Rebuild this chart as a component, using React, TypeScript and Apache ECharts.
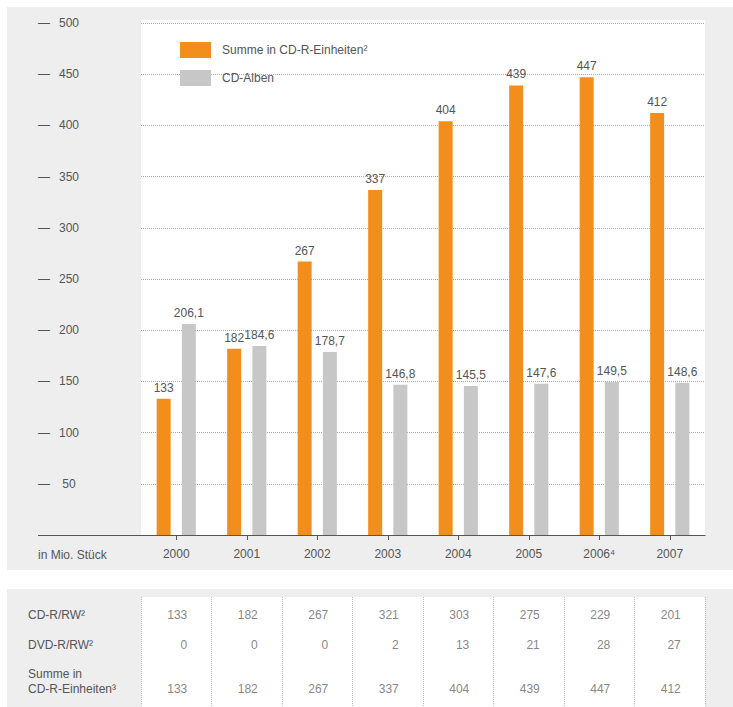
import React, { useEffect, useRef } from "react";
import * as echarts from "echarts";

const years = ["2000", "2001", "2002", "2003", "2004", "2005", "2006⁴", "2007"];
const summeCDR = [133, 182, 267, 337, 404, 439, 447, 412];
const cdAlben = [206.1, 184.6, 178.7, 146.8, 145.5, 147.6, 149.5, 148.6];
const tableCDRRW = [133, 182, 267, 321, 303, 275, 229, 201];
const tableDVDRRW = [0, 0, 0, 2, 13, 21, 28, 27];
const tableSumme = [133, 182, 267, 337, 404, 439, 447, 412];
const rowLabels = ["CD-R/RW²", "DVD-R/RW²", "Summe in\nCD-R-Einheiten³"];
const yTicks = [0, 50, 100, 150, 200, 250, 300, 350, 400, 450, 500];

const ORANGE = "#F28E1C";
const GREY = "#C7C7C7";
const PANEL = "#EEEEEF";
const TXT = "#555";
const FONT = "Liberation Sans";

const fmt = (v: number) => String(v).replace(".", ",");

export default function App() {
  const ref = useRef<HTMLDivElement>(null);
  useEffect(() => {
    if (!ref.current) return;
    const chart = echarts.init(ref.current, undefined, { renderer: "svg" });
    const rows = [tableCDRRW, tableDVDRRW, tableSumme];
    const rowOffsets = [[11, 0], [11, -7], [11, 0]];
    const tableSeries = rows.map((arr, r) => ({
      type: "scatter",
      xAxisIndex: 1,
      yAxisIndex: 1,
      symbolSize: 0,
      silent: true,
      data: arr.map((v, i) => [years[i], rowLabels[r], v]),
      label: {
        show: true,
        position: "inside",
        align: "right",
        offset: rowOffsets[r],
        formatter: (p: any) => String(p.value[2]),
        color: "#666",
        fontSize: 12,
        fontFamily: FONT,
      },
    }));
    chart.setOption({
      animation: false,
      textStyle: { fontFamily: FONT },
      graphic: [
        { type: "rect", z: -10, shape: { x: 7, y: 7, width: 726, height: 563 }, style: { fill: PANEL } },
        { type: "rect", z: -10, shape: { x: 7, y: 589, width: 726, height: 118 }, style: { fill: PANEL } },
        { type: "rect", z: -9, shape: { x: 141, y: 20, width: 564, height: 515 }, style: { fill: "#fff" } },
        { type: "rect", z: -9, shape: { x: 141, y: 597, width: 564, height: 110 }, style: { fill: "#fff" } },
        { type: "line", z: 5, shape: { x1: 38, y1: 535.5, x2: 141, y2: 535.5 }, style: { stroke: TXT, lineWidth: 1 } },
        {
          type: "text",
          x: 38,
          y: 555,
          style: { text: "in Mio. Stück", fill: TXT, font: `12px ${FONT}`, verticalAlign: "middle" },
        },
      ],
      legend: {
        left: 175,
        top: 37,
        orient: "vertical",
        icon: "rect",
        itemWidth: 31,
        itemHeight: 16,
        itemGap: 12,
        textStyle: { color: TXT, fontSize: 12, fontFamily: FONT, padding: [0, 0, 0, 6] },
        data: ["Summe in CD-R-Einheiten²", "CD-Alben"],
      },
      grid: [
        { left: 141, right: 28, top: 23, bottom: 172, outerBoundsMode: "none", containLabel: false },
        { left: 141, right: 28, top: 597, bottom: 0, outerBoundsMode: "none", containLabel: false },
      ],
      xAxis: [
        {
          type: "category",
          data: years,
          gridIndex: 0,
          axisLine: { lineStyle: { color: TXT, width: 1 } },
          axisTick: { show: true, alignWithLabel: true, length: 5, lineStyle: { color: TXT } },
          axisLabel: { color: TXT, fontSize: 12, margin: 13, fontFamily: FONT },
          splitLine: { show: false },
        },
        {
          type: "category",
          data: years,
          gridIndex: 1,
          axisLine: { show: false },
          axisTick: { show: false },
          axisLabel: { show: false },
          splitLine: { show: true, lineStyle: { color: "#bbb", type: "dotted", width: 1 } },
        },
      ],
      yAxis: [
        {
          type: "value",
          gridIndex: 0,
          min: yTicks[0],
          max: yTicks[yTicks.length - 1],
          interval: 50,
          axisLine: { show: false },
          axisTick: { show: false },
          splitLine: { show: true, lineStyle: { color: "#aaa", type: "dotted", width: 1 } },
          axisLabel: {
            align: "left",
            margin: 103,
            formatter: (v: number) => (v === 0 ? "" : `{d|—}{n|${v}}`),
            rich: {
              d: { width: 20, align: "left", color: TXT, fontSize: 12, fontFamily: FONT },
              n: { width: 22, align: "center", color: TXT, fontSize: 12, fontFamily: FONT },
            },
          },
        },
        {
          type: "category",
          gridIndex: 1,
          inverse: true,
          data: rowLabels,
          axisLine: { show: false },
          axisTick: { show: false },
          splitLine: { show: false },
          axisLabel: {
            interval: 0,
            hideOverlap: false,
            align: "left",
            margin: 113,
            color: TXT,
            fontSize: 12,
            fontFamily: FONT,
            lineHeight: 15,
            formatter: (v: string) => (v === rowLabels[0] ? v : v + "\n "),
          },
        },
      ],
      series: [
        {
          name: "Summe in CD-R-Einheiten²",
          type: "bar",
          xAxisIndex: 0,
          yAxisIndex: 0,
          data: summeCDR,
          barWidth: 14,
          barGap: "80%",
          itemStyle: { color: ORANGE },
          label: { show: true, position: "top", distance: 5, color: TXT, fontSize: 12, fontFamily: FONT, formatter: (p: any) => fmt(p.value) },
        },
        {
          name: "CD-Alben",
          type: "bar",
          xAxisIndex: 0,
          yAxisIndex: 0,
          data: cdAlben,
          barWidth: 14,
          itemStyle: { color: GREY },
          label: { show: true, position: "top", distance: 5, color: TXT, fontSize: 12, fontFamily: FONT, formatter: (p: any) => fmt(p.value) },
        },
        ...tableSeries,
      ],
    });
    return () => chart.dispose();
  }, []);
  return (
    <div
      ref={ref}
      style={{ position: "fixed", left: 0, top: 0, width: 733, height: 707, background: "#fff" }}
    />
  );
}
